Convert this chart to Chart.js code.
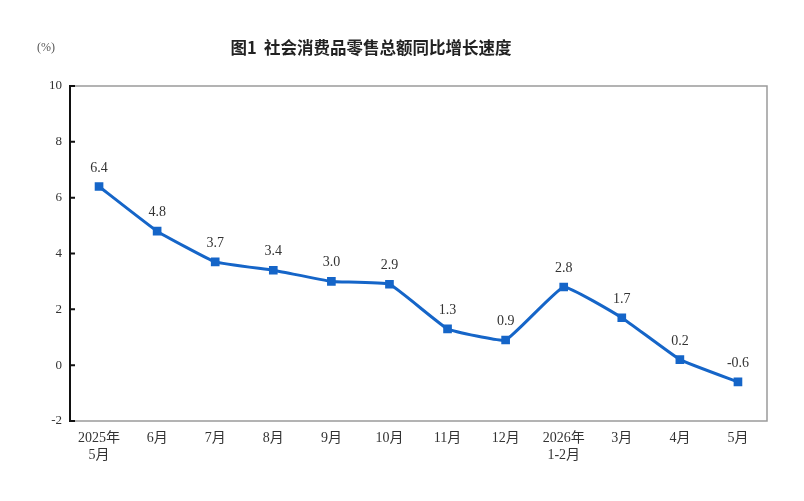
<!DOCTYPE html>
<html>
<head>
<meta charset="utf-8">
<script src="https://cdn.jsdelivr.net/npm/chart.js@4/dist/chart.umd.min.js"></script>
<style>
  html, body { margin: 0; padding: 0; background: #fff; }
  #wrap { width: 804px; height: 501px; }
</style>
</head>
<body>
<div id="wrap"><canvas id="c" width="804" height="501"></canvas></div>
<script>
// values
const months = [["2025年", "5月"], "6月", "7月", "8月", "9月", "10月", "11月", "12月", ["2026年", "1-2月"], "3月", "4月", "5月"];
const growth = [6.4, 4.8, 3.7, 3.4, 3.0, 2.9, 1.3, 0.9, 2.8, 1.7, 0.2, -0.6];
const yTicks = [-2, 0, 2, 4, 6, 8, 10];

const serif = "'Liberation Serif', 'Noto Sans CJK SC', serif";
const blue = "#1565c8";

// title, unit, frame, inner tick marks and value labels
const decor = {
  id: "decor",
  afterDatasetsDraw(chart) {
    const ctx = chart.ctx;
    const a = chart.chartArea;
    const y = chart.scales.y;
    ctx.save();

    ctx.strokeStyle = "#9a9a9a";
    ctx.lineWidth = 1.5;
    ctx.strokeRect(a.left, a.top, a.right - a.left, a.bottom - a.top);
    ctx.strokeStyle = "#111";
    ctx.lineWidth = 2;
    ctx.beginPath();
    ctx.moveTo(a.left, a.top - 1);
    ctx.lineTo(a.left, a.bottom + 1);
    yTicks.forEach(v => {
      const py = y.getPixelForValue(v);
      ctx.moveTo(a.left, py);
      ctx.lineTo(a.left + 5, py);
    });
    ctx.stroke();

    ctx.fillStyle = "#333";
    ctx.font = "14px " + serif;
    ctx.textAlign = "center";
    ctx.textBaseline = "alphabetic";
    const meta = chart.getDatasetMeta(0);
    meta.data.forEach((pt, i) => {
      ctx.fillText(growth[i].toFixed(1), pt.x, pt.y - 15);
    });

    ctx.fillStyle = "#222";
    ctx.font = "bold 16.5px 'Noto Sans CJK SC', sans-serif";
    ctx.fillText("图1  社会消费品零售总额同比增长速度", 371, 54);

    ctx.fillStyle = "#555";
    ctx.font = "12px " + serif;
    ctx.fillText("(%)", 46, 51);
    ctx.restore();
  }
};

new Chart(document.getElementById("c"), {
  type: "line",
  data: {
    labels: months,
    datasets: [{
      data: growth,
      borderColor: blue,
      backgroundColor: blue,
      borderWidth: 3,
      pointStyle: "rect",
      pointRadius: 4,
      pointHoverRadius: 4,
      tension: 0.1,
      clip: false
    }]
  },
  options: {
    responsive: false,
    animation: false,
    layout: { padding: { top: 86, right: 37, left: 0, bottom: 0 } },
    plugins: {
      legend: { display: false },
      tooltip: { enabled: false },
      title: { display: false }
    },
    scales: {
      x: {
        offset: true,
        grid: { display: false, drawTicks: false },
        border: { display: false },
        ticks: {
          color: "#333",
          font: { family: serif, size: 14 },
          padding: 9,
          maxRotation: 0,
          autoSkip: false
        },
        afterFit(s) { s.height = 80; }
      },
      y: {
        min: -2,
        max: 10,
        afterBuildTicks(s) { s.ticks = yTicks.map(v => ({ value: v })); },
        grid: { display: false, drawTicks: false },
        border: { display: false },
        ticks: {
          color: "#333",
          font: { family: serif, size: 13 },
          padding: 8
        },
        afterFit(s) { s.width = 70; }
      }
    }
  },
  plugins: [decor]
});
</script>
</body>
</html>
